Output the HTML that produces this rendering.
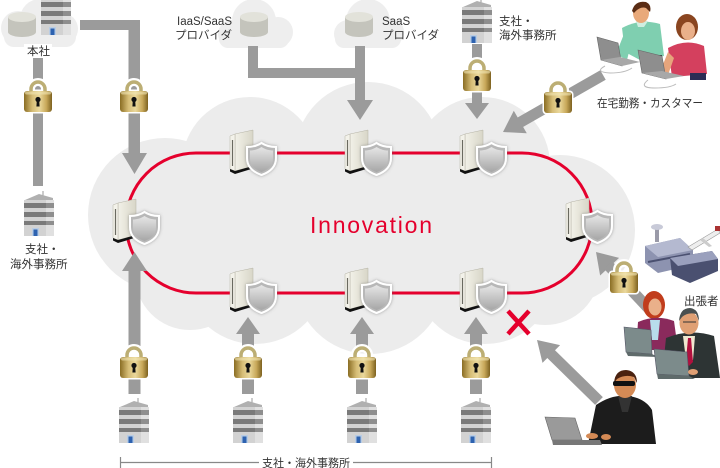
<!DOCTYPE html>
<html><head><meta charset="utf-8"><style>
html,body{margin:0;padding:0;background:#fff;}
svg{display:block;}
text{font-family:"Liberation Sans","Noto Sans CJK JP",sans-serif;fill:#333;}
</style></head><body>
<svg width="720" height="468" viewBox="0 0 720 468" xmlns="http://www.w3.org/2000/svg">
<defs>
 <linearGradient id="gold" x1="0" x2="1" y1="0" y2="0">
  <stop offset="0" stop-color="#8a6d24"/><stop offset="0.3" stop-color="#d6bd76"/>
  <stop offset="0.55" stop-color="#ead89c"/><stop offset="0.8" stop-color="#c8a859"/>
  <stop offset="1" stop-color="#7d6220"/>
 </linearGradient>
 <linearGradient id="srvR" x1="0" x2="1" y1="0" y2="0">
  <stop offset="0" stop-color="#f2f1e8"/><stop offset="1" stop-color="#d8d6c8"/>
 </linearGradient>
 <linearGradient id="shg" x1="0" x2="0" y1="0" y2="1">
  <stop offset="0" stop-color="#e6e6e6"/><stop offset="1" stop-color="#a6a6a6"/>
 </linearGradient>
 <filter id="glow" x="-40%" y="-40%" width="180%" height="180%">
  <feDropShadow dx="0" dy="0" stdDeviation="1.6" flood-color="#666" flood-opacity="0.6"/>
 </filter>
 <g id="lock">
  <path d="M7,15 V10 A7,7 0 0 1 21,10 V15" fill="none" stroke="#fff" stroke-width="8"/>
  <rect x="-1.5" y="10.5" width="31" height="24" rx="4" fill="#fff"/>
  <path d="M7,15 V10 A7,7 0 0 1 21,10 V15" fill="none" stroke="#bcae74" stroke-width="3.5"/>
  <rect x="0" y="12" width="28" height="21" rx="3" fill="url(#gold)"/>
  <rect x="1" y="12.5" width="26" height="3" rx="1.5" fill="#f2e6b4" opacity="0.6"/>
  <circle cx="14" cy="20.5" r="2.6" fill="#111"/>
  <path d="M12.8,21.5 H15.2 L15.6,27.5 H12.4 Z" fill="#111"/>
 </g>
 <g id="dev">
  <polygon points="5,4 23,0 23,36 5,41" fill="url(#srvR)" stroke="#b4b2a4" stroke-width="0.5"/>
  <polygon points="0,6 5,4 5,41 0,39" fill="#f3f2ea" stroke="#b4b2a4" stroke-width="0.5"/>
  <line x1="2.5" y1="10" x2="2.5" y2="36" stroke="#6a6a60" stroke-width="1.2"/>
  <polygon points="0,39 5,41 23,36 23,38.5 5,44 0,41.5" fill="#111"/>
  <path d="M31.5,13 C36,16 41,17 46,17 L46,28 C46,37 40,42 31.5,45 C23,42 17,37 17,28 L17,17 C22,17 27,16 31.5,13 Z" fill="#b8b8b8" stroke="#fff" stroke-width="2" filter="url(#glow)"/>
  <path d="M31.5,17 C35.5,19.5 39.5,20.5 43,20.5 L43,28.5 C43,35.5 38.5,39.5 31.5,42 C24.5,39.5 20,35.5 20,28.5 L20,20.5 C23.5,20.5 27.5,19.5 31.5,17 Z" fill="url(#shg)"/>
 </g>
 <g id="bld">
  <line x1="19" y1="0" x2="19" y2="5" stroke="#999" stroke-width="1"/>
  <polygon points="1,9 15,3 29,7 29,10 1,10" fill="#b0b0b0"/>
  <rect x="0" y="9" width="30" height="36" fill="#d2d2d2"/>
  <rect x="22" y="9" width="8" height="36" fill="#e0e0e0"/>
  <rect x="0" y="12" width="30" height="5" fill="#7a7a7a"/>
  <rect x="0" y="21" width="30" height="5" fill="#7a7a7a"/>
  <rect x="0" y="30" width="30" height="4" fill="#7a7a7a"/>
  <rect x="22" y="12" width="8" height="5" fill="#8e8e8e"/>
  <rect x="22" y="21" width="8" height="5" fill="#8e8e8e"/>
  <rect x="22" y="30" width="8" height="4" fill="#8e8e8e"/>
  <rect x="8" y="37" width="7" height="8" fill="#b8cce4"/>
  <rect x="9.5" y="38.5" width="4" height="6.5" fill="#2d62b0"/>
 </g>
 <g id="cyl">
  <path d="M0,5 V20 A14,5 0 0 0 28,20 V5 Z" fill="#c4c4bc"/>
  <ellipse cx="14" cy="5" rx="14" ry="5" fill="#e2e2da"/>
 </g>
</defs>

<!-- big cloud -->
<g fill="#ececec">
 <circle cx="165" cy="215" r="77"/>
 <circle cx="190" cy="275" r="55"/>
 <circle cx="250" cy="165" r="68"/>
 <circle cx="368" cy="155" r="73"/>
 <circle cx="482" cy="165" r="68"/>
 <circle cx="560" cy="205" r="48"/>
 <circle cx="560" cy="230" r="75"/>
 <circle cx="545" cy="270" r="55"/>
 <circle cx="255" cy="272" r="72"/>
 <circle cx="370" cy="278" r="76"/>
 <circle cx="485" cy="272" r="72"/>
 <rect x="172" y="148" width="358" height="160"/>
</g>

<!-- small clouds -->
<g fill="#eeeeee">
 <circle cx="18" cy="28" r="17"/><circle cx="40" cy="19" r="20"/><circle cx="62" cy="29" r="16"/>
 <rect x="4" y="26" width="72" height="21" rx="10"/>
 <circle cx="232" cy="34" r="14"/><circle cx="254" cy="21" r="22"/><circle cx="278" cy="32" r="15"/>
 <rect x="219" y="30" width="70" height="18" rx="9"/>
 <circle cx="348" cy="34" r="14"/><circle cx="368" cy="21" r="22"/><circle cx="390" cy="32" r="14"/>
 <rect x="335" y="30" width="66" height="18" rx="9"/>
</g>
<use href="#cyl" x="8" y="12"/>
<use href="#bld" x="41" y="-10"/>
<use href="#cyl" x="240" y="12"/>
<use href="#cyl" x="345" y="12"/>

<!-- red loop -->
<rect x="126" y="153" width="466" height="140" rx="70" ry="70" fill="none" stroke="#e5002d" stroke-width="3"/>

<!-- devices -->
<use href="#dev" x="230" y="130"/>
<use href="#dev" x="345" y="130"/>
<use href="#dev" x="460" y="130"/>
<use href="#dev" x="230" y="268"/>
<use href="#dev" x="345" y="268"/>
<use href="#dev" x="460" y="268"/>
<use href="#dev" x="113" y="199"/>
<use href="#dev" x="566" y="198"/>

<text x="371" y="233" font-size="23" text-anchor="middle" textLength="122" lengthAdjust="spacing" style="fill:#e5002d">Innovation</text>

<!-- pipes & arrows -->
<g fill="#9b9b9b">
 <rect x="33" y="58" width="10" height="128"/>
 <rect x="80" y="20" width="60" height="10"/>
 <rect x="128.5" y="20" width="11.5" height="136"/>
 <polygon points="122,153 147,153 134.5,174"/>
 <polygon points="122,271 147,271 134.5,252"/>
 <rect x="128.5" y="270" width="12" height="78"/>
 <rect x="128.5" y="376" width="12" height="18"/>
 <polygon points="236,334 260,334 248,317"/><rect x="242" y="333" width="12" height="14"/><rect x="242" y="376" width="12" height="18"/>
 <polygon points="350,334 374,334 362,317"/><rect x="356" y="333" width="12" height="14"/><rect x="356" y="376" width="12" height="18"/>
 <polygon points="464,334 488,334 476,317"/><rect x="470" y="333" width="12" height="14"/><rect x="470" y="376" width="12" height="18"/>
 <rect x="248" y="46" width="10" height="32"/>
 <rect x="248" y="68" width="117" height="10"/>
 <rect x="355" y="46" width="10" height="56"/>
 <polygon points="347,100 373,100 360,120"/>
 <rect x="472" y="44" width="10" height="14"/>
 <rect x="472" y="91" width="10" height="13"/>
 <polygon points="465,103 489,103 477,119"/>
 <polygon points="526.8,133.3 513.8,110.7 503,132"/>
 <polygon points="619.1,257.9 600.1,275.5 596,252"/>
 <polygon points="560.1,345.1 542.5,362.9 537,340"/>
</g>
<g stroke="#9b9b9b" stroke-width="11" fill="none">
 <line x1="603" y1="75" x2="519" y2="123"/>
 <line x1="649" y1="309" x2="608" y2="265"/>
 <line x1="599" y1="401" x2="550" y2="353"/>
</g>

<!-- locks -->
<use href="#lock" x="24" y="79"/>
<use href="#lock" x="120" y="79"/>
<use href="#lock" x="120" y="345"/>
<use href="#lock" x="234" y="345"/>
<use href="#lock" x="348" y="345"/>
<use href="#lock" x="462" y="345"/>
<use href="#lock" x="463" y="58"/>
<use href="#lock" x="544" y="80"/>
<use href="#lock" x="610" y="260"/>

<!-- buildings -->
<use href="#bld" x="24" y="191"/>
<use href="#bld" x="462" y="-2"/>
<use href="#bld" x="119" y="398"/>
<use href="#bld" x="233" y="398"/>
<use href="#bld" x="347" y="398"/>
<use href="#bld" x="461" y="398"/>

<!-- red X -->
<g stroke="#e5002d" stroke-width="4.5">
 <line x1="508" y1="311" x2="529" y2="334"/>
 <line x1="529" y1="311" x2="508" y2="334"/>
</g>

<!-- remote workers -->
<g>
 <path d="M622,28 Q640,18 660,24 L664,56 L640,60 L625,52 Z" fill="#7fcfb0"/>
 <polygon points="636,21 648,21 644,27 638,27" fill="#cfeee0"/>
 <polygon points="624,34 616,54 627,60 632,40" fill="#7fcfb0"/>
 <ellipse cx="641" cy="13" rx="8" ry="10" fill="#e9a97a"/>
 <path d="M632,11 Q635,0 646,2 Q652,5 650,12 L646,8 Q640,6 634,13 Z" fill="#5a2c14"/>
 <rect x="640" y="55" width="22" height="7" fill="#233"/>
 <polygon points="597,37 618,43 622,66 601,60" fill="#8e8e8e" stroke="#666" stroke-width="0.6"/>
 <polygon points="601,60 622,66 640,62 620,57" fill="#a8a8a8"/>
 <ellipse cx="687" cy="27" rx="11" ry="13" fill="#8a4520"/>
 <ellipse cx="688" cy="31" rx="7" ry="9" fill="#eab08a"/>
 <path d="M668,48 Q686,38 704,46 L707,74 L672,77 Z" fill="#d4405e"/>
 <rect x="690" y="73" width="16" height="7" fill="#2b2d55"/>
 <polygon points="668,52 660,72 668,75 674,58" fill="#e6a57c"/>
 <polygon points="638,50 662,56 666,79 642,73" fill="#8e8e8e" stroke="#666" stroke-width="0.6"/>
 <polygon points="642,73 666,79 684,76 662,71" fill="#a8a8a8"/>
 <path d="M605,66 Q594,72 610,73 Q625,73 632,68" stroke="#bbb" fill="none"/>
 <path d="M648,80 Q638,88 655,88 Q670,88 676,84" stroke="#bbb" fill="none"/>
</g>

<!-- airport -->
<g>
 <rect x="655" y="226" width="4" height="16" fill="#9a9aa8"/>
 <ellipse cx="657" cy="227" rx="6" ry="3" fill="#c8cad8"/>
 <polygon points="645,246 680,238 693,250 693,265 658,273 645,263" fill="#8d93b0"/>
 <polygon points="645,246 680,238 693,250 658,257" fill="#b4b9d0"/>
 <line x1="648" y1="262" x2="690" y2="254" stroke="#4a5070" stroke-width="2"/>
 <polygon points="670,258 712,251 718,259 718,271 690,283 672,275" fill="#4a5070"/>
 <polygon points="670,258 712,251 718,259 678,266" fill="#9aa0bd"/>
 <path d="M688,247 L718,229 L720,233 L692,250 Z" fill="#eee" stroke="#999" stroke-width="0.6"/>
 <polygon points="703,238 712,246 709,247 700,240" fill="#ccc"/>
 <rect x="715" y="226" width="5" height="5" fill="#a33"/>
</g>

<!-- business travellers -->
<g>
 <ellipse cx="654" cy="305" rx="11" ry="14" fill="#c13d1c"/>
 <ellipse cx="655" cy="307" rx="6.5" ry="8.5" fill="#eab08a"/>
 <path d="M638,322 Q656,314 674,321 L678,350 L636,350 Z" fill="#8a2a5c"/>
 <polygon points="650,320 660,320 658,340 652,340" fill="#b8dcec"/>
 <polygon points="624,327 651,330 652,354 626,352" fill="#7c8b8b" stroke="#556" stroke-width="0.6"/>
 <polygon points="626,352 652,354 658,357 628,356" fill="#5f6b6b"/>
 <path d="M666,338 Q690,328 714,336 L720,378 L662,378 Z" fill="#2d3434"/>
 <polygon points="683,336 695,336 693,360 686,360" fill="#f0e8d0"/>
 <polygon points="688,338 691,338 693,362 689,366 686,360" fill="#b0103e"/>
 <ellipse cx="689" cy="323" rx="9.5" ry="11.5" fill="#e0a074"/>
 <path d="M679,321 Q680,308 690,308 Q699,309 699,321 L696,314 Q688,312 682,317 Z" fill="#4a5050"/>
 <line x1="683" y1="322" x2="696" y2="322" stroke="#333" stroke-width="1"/>
 <polygon points="654,349 687,352 689,376 657,374" fill="#7c8b8b" stroke="#556" stroke-width="0.6"/>
 <polygon points="657,374 689,376 695,379 658,379" fill="#5f6b6b"/>
 <ellipse cx="693" cy="372" rx="5" ry="3" fill="#e0a074"/>
</g>

<!-- hacker -->
<g>
 <path d="M596,405 Q612,394 628,396 Q645,398 652,410 L656,444 L588,444 Z" fill="#1c1c1c"/>
 <polygon points="618,396 632,396 628,412 622,412" fill="#333"/>
 <ellipse cx="625" cy="385" rx="11" ry="13" fill="#d48a55"/>
 <path d="M614,383 Q615,370 626,370 Q637,371 637,383 L634,377 Q625,374 617,379 Z" fill="#4a2210"/>
 <rect x="613" y="381" width="22" height="5" rx="2" fill="#111"/>
 <polygon points="545,417 575,418 582,440 552,440" fill="#9a9a9a" stroke="#666" stroke-width="0.6"/>
 <polygon points="552,440 600,440 602,445 553,445" fill="#777"/>
 <ellipse cx="592" cy="436" rx="6" ry="3" fill="#d48a55"/>
 <ellipse cx="606" cy="437" rx="5" ry="3" fill="#d48a55"/>
</g>

<!-- labels -->
<g font-size="11.5">
 <rect x="24" y="44" width="28" height="14" fill="#fff"/>
 <text x="27" y="55">本社</text>
 <text x="25" y="253">支社・</text>
 <text x="10" y="268">海外事務所</text>
 <text x="232" y="25" text-anchor="end">IaaS/SaaS</text>
 <text x="232" y="39" text-anchor="end">プロバイダ</text>
 <text x="382" y="25">SaaS</text>
 <text x="382" y="39">プロバイダ</text>
 <text x="499" y="25">支社・</text>
 <text x="499" y="39">海外事務所</text>
 <text x="597" y="107" textLength="106" lengthAdjust="spacingAndGlyphs">在宅勤務・カスタマー</text>
 <text x="684" y="305">出張者</text>
 <text x="306" y="467" text-anchor="middle" textLength="88" lengthAdjust="spacingAndGlyphs">支社・海外事務所</text>
</g>
<g stroke="#888" stroke-width="1.2">
 <line x1="120" y1="462.5" x2="259" y2="462.5"/>
 <line x1="353" y1="462.5" x2="492" y2="462.5"/>
 <line x1="120.5" y1="457" x2="120.5" y2="468"/>
 <line x1="491.5" y1="457" x2="491.5" y2="468"/>
</g>
</svg>
</body></html>
